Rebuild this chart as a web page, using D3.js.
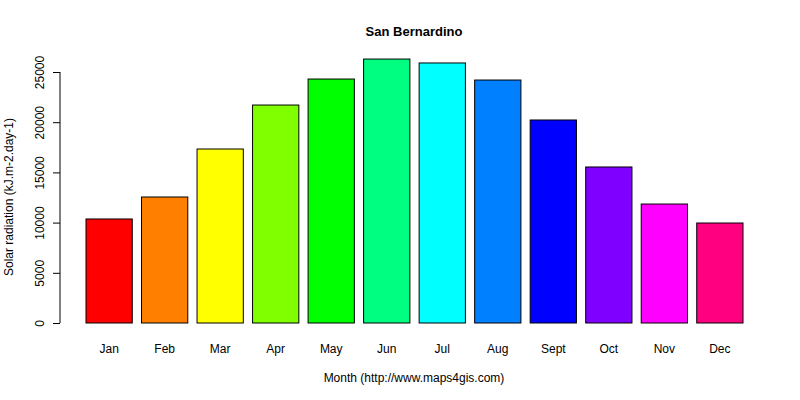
<!DOCTYPE html>
<html><head><meta charset="utf-8">
<script src="https://cdn.jsdelivr.net/npm/d3@7"></script>
<style>body{margin:0;background:#fff}text{font-family:"Liberation Sans",Arial,sans-serif}</style>
</head><body>
<svg id="chart" width="800" height="400"></svg>
<script>
var months = ["Jan","Feb","Mar","Apr","May","Jun","Jul","Aug","Sept","Oct","Nov","Dec"];
var radiation = [10360,12550,17330,21710,24300,26290,25900,24200,20220,15540,11850,9960];
var colors = ["#FF0000","#FF8000","#FFFF00","#80FF00","#00FF00","#00FF80","#00FFFF","#0080FF","#0000FF","#8000FF","#FF00FF","#FF0080"];
var yTicks = [0,5000,10000,15000,20000,25000];

var svg = d3.select('#chart');
// R barplot layout: width 1, space 0.2
var x = d3.scaleLinear().domain([0.2, 14.4]).range([86, 743]);
var y = d3.scaleLinear().domain([0, 25000]).range([323, 72]);

svg.selectAll('rect')
  .data(radiation)
  .enter()
  .append('rect')
  .attr('x', function(d, i){ return x(0.2 + i*1.2); })
  .attr('width', x(1.2) - x(0.2))
  .attr('y', function(d){ return y(d); })
  .attr('height', function(d){ return y(0) - y(d); })
  .attr('fill', function(d, i){ return colors[i]; })
  .attr('stroke', '#000');

var yAxis = svg.append('g')
  .attr('transform', 'translate(60,0)')
  .call(d3.axisLeft(y).tickValues(yTicks).tickSize(7).tickFormat(d3.format('d')));
yAxis.select('.domain').attr('d', 'M0,' + y(0) + 'V' + y(25000));
yAxis.selectAll('text')
  .attr('font-size', 12)
  .attr('transform', 'rotate(-90)')
  .attr('x', 0)
  .attr('y', -16)
  .attr('dy', 0)
  .attr('text-anchor', 'middle');

svg.selectAll('.mlab')
  .data(months)
  .enter()
  .append('text')
  .attr('x', function(d, i){ return x(0.7 + i*1.2); })
  .attr('y', 353)
  .attr('text-anchor', 'middle')
  .attr('font-size', 12)
  .text(function(d){ return d; });

svg.append('text').attr('x', 414).attr('y', 36).attr('text-anchor', 'middle')
  .attr('font-size', 13).attr('font-weight', 'bold').text('San Bernardino');
svg.append('text').attr('x', 414).attr('y', 382).attr('text-anchor', 'middle')
  .attr('font-size', 12).text('Month (http://www.maps4gis.com)');
svg.append('text').attr('transform', 'translate(13,197) rotate(-90)').attr('text-anchor', 'middle')
  .attr('font-size', 12).text('Solar radiation (kJ.m-2.day-1)');
</script>
</body></html>
